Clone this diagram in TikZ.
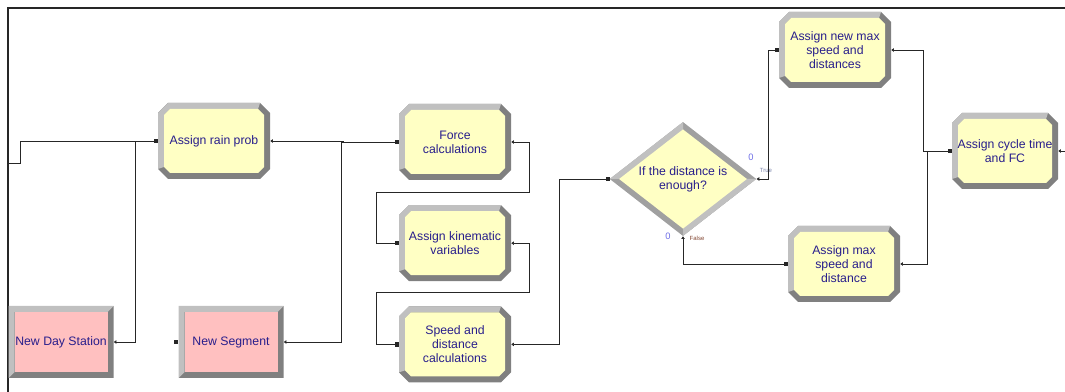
\documentclass[tikz,border=0pt]{standalone}
\usepackage{fontspec}
\setmainfont{Liberation Sans}
\usetikzlibrary{arrows.meta,shapes.geometric,positioning}

\definecolor{assignfill}{RGB}{255,255,196}
\definecolor{createfill}{RGB}{255,192,192}
\definecolor{bevlight}{RGB}{192,192,192}
\definecolor{bevdark}{RGB}{128,128,128}
\definecolor{bevmid}{RGB}{160,160,160}
\definecolor{modtext}{RGB}{40,30,140}
\definecolor{countblue}{RGB}{110,110,230}
\definecolor{truetext}{RGB}{120,130,170}
\definecolor{falsetext}{RGB}{130,70,50}

\tikzset{
  % octagonal Assign module with bevel
  assign/.style={rectangle, inner sep=0pt, minimum width=84pt, minimum height=57pt,
    align=center, text=modtext, font=\fontsize{9.2}{10.5}\selectfont,
    path picture={
      \coordinate (nw) at (path picture bounding box.north west);
      \coordinate (ne) at (path picture bounding box.north east);
      \coordinate (sw) at (path picture bounding box.south west);
      \coordinate (se) at (path picture bounding box.south east);
      \fill[bevdark] ([xshift=7.5pt]nw) -- ([xshift=-7.5pt]ne) -- ([yshift=-7.5pt]ne) -- ([yshift=7.5pt]se)
        -- ([xshift=-7.5pt]se) -- ([xshift=7.5pt]sw) -- ([yshift=7.5pt]sw) -- ([yshift=-7.5pt]nw) -- cycle;
      \fill[bevlight] ([yshift=7.5pt]sw) -- ([yshift=-7.5pt]nw) -- ([xshift=7.5pt]nw) -- ([xshift=-7.5pt]ne)
        -- ([xshift=-9pt,yshift=-4.5pt]ne) -- ([xshift=9pt,yshift=-4.5pt]nw)
        -- ([xshift=4.5pt,yshift=-9pt]nw) -- ([xshift=4.5pt,yshift=9pt]sw) -- cycle;
      \fill[assignfill] ([xshift=9pt,yshift=-4.5pt]nw) -- ([xshift=-9pt,yshift=-4.5pt]ne)
        -- ([xshift=-4.5pt,yshift=-9pt]ne) -- ([xshift=-4.5pt,yshift=9pt]se)
        -- ([xshift=-9pt,yshift=4.5pt]se) -- ([xshift=9pt,yshift=4.5pt]sw)
        -- ([xshift=4.5pt,yshift=9pt]sw) -- ([xshift=4.5pt,yshift=-9pt]nw) -- cycle;
    }},
  % rectangular Create module
  create/.style={rectangle, inner sep=0pt, minimum width=78.75pt, minimum height=54pt,
    align=center, text=modtext, font=\fontsize{9.2}{10.5}\selectfont,
    path picture={
      \coordinate (nw) at (path picture bounding box.north west);
      \coordinate (ne) at (path picture bounding box.north east);
      \coordinate (sw) at (path picture bounding box.south west);
      \coordinate (se) at (path picture bounding box.south east);
      \fill[bevdark] (nw) rectangle (se);
      \fill[bevlight] (sw) -- (nw) -- (ne) -- ([xshift=-4.5pt,yshift=-4.5pt]ne)
        -- ([xshift=4.5pt,yshift=-4.5pt]nw) -- ([xshift=4.5pt,yshift=4.5pt]sw) -- cycle;
      \fill[createfill] ([xshift=4.5pt,yshift=-4.5pt]nw) rectangle ([xshift=-4.5pt,yshift=4.5pt]se);
    }},
  % Decide module
  decide/.style={diamond, inner sep=0pt, minimum width=110pt, minimum height=81pt,
    align=center, text=modtext, font=\fontsize{9.2}{10.5}\selectfont,
    path picture={
      \fill[bevmid] (path picture bounding box.north west) rectangle (path picture bounding box.south east);
      \fill[bevlight] (path picture bounding box.west) -- (path picture bounding box.north)
        -- (path picture bounding box.center) -- cycle;
      \fill[bevlight] (path picture bounding box.east) -- (path picture bounding box.south)
        -- (path picture bounding box.center) -- cycle;
      \fill[assignfill] ([xshift=7pt]path picture bounding box.west) -- ([yshift=-5.5pt]path picture bounding box.north)
        -- ([xshift=-7pt]path picture bounding box.east) -- ([yshift=5.5pt]path picture bounding box.south) -- cycle;
    }},
  flow/.style={draw=black!85, line width=0.6pt,
    {Triangle[length=2pt,width=2.6pt]}-{Square[length=2.5pt,width=3pt]}},
  inflow/.style={draw=black!85, line width=0.6pt, -{Square[length=2.5pt,width=3pt]}},
  outflow/.style={draw=black!85, line width=0.6pt, {Triangle[length=2pt,width=2.6pt]}-},
  countlbl/.style={inner sep=0pt, text=countblue, font=\fontsize{7}{7}\selectfont},
  portlbl/.style={inner sep=0pt, font=\fontsize{4.5}{4.5}\selectfont}
}

\begin{document}
\begin{tikzpicture}[x=0.75pt, y=-0.75pt]
    \useasboundingbox (0,0) rectangle (1065,392);
    \draw[line width=1.5pt, black!85] (8,392) -- (8,8) -- (1065,8);

    \node[create] (daystation) at (61,342) {New Day Station};
    \node[create] (segment) at (231,342) {New Segment};
    \node[assign] (rainprob) at (214,141) {Assign rain prob};
    \node[assign] (force) at (455,142) {Force\\calculations};
    \node[assign, below = 18.5pt of force] (kinematic) {Assign kinematic\\variables};
    \node[assign, below = 18.5pt of kinematic] (speeddist) {Speed and\\distance\\calculations};
    \node[decide] (enough) at (683,179) {If the distance is\\enough?};
    \node[assign] (newmax) at (835,50) {Assign new max\\speed and\\distances};
    \node[assign] (maxspeed) at (844,264) {Assign max\\speed and\\distance};
    \node[assign, minimum width=79.5pt] (cycletime) at (1005,151) {Assign cycle time\\and FC};

    \coordinate (entry) at (8,163);
    \coordinate (exit) at (1065,151);

    \node[countlbl] (truecount) at (751,157) {0};
    \node[portlbl, text=truetext] (truelbl) at (766,170) {True};
    \node[countlbl] (falsecount) at (668,236) {0};
    \node[portlbl, text=falsetext] (falselbl) at (697,238) {False};

    \fill[black!85] ([xshift=-3pt,yshift=-1.5pt]segment.west) rectangle ([yshift=1.5pt]segment.west);

    \draw[inflow] (entry) -- ++(12,0) |- (rainprob.west);
    \draw[flow] (daystation.east) -- ++(22,0) |- (rainprob.west);
    \draw[flow] (rainprob.east) -- ++(73,0) |- (force.west);
    \draw[flow] (segment.east) -- ++(58,0) |- (force.west);
    \draw[flow] (force.east) -- ++(18,0) -- ++(0,50) -| ([xshift=-16.5pt]kinematic.west) -- (kinematic.west);
    \draw[flow] (kinematic.east) -- ++(18,0) -- ++(0,49) -| ([xshift=-16.5pt]speeddist.west) -- (speeddist.west);
    \draw[flow] (speeddist.east) -- ++(48,0) |- (enough.west);
    \draw[flow] (enough.east) -- ++(12,0) |- (newmax.west);
    \draw[flow] (enough.south) |- (maxspeed.west);
    \draw[flow] (newmax.east) -- ++(32,0) |- (cycletime.west);
    \draw[flow] (maxspeed.east) -- ++(27,0) |- (cycletime.west);
    \draw[outflow] (cycletime.east) -- (exit);
\end{tikzpicture}
\end{document}
